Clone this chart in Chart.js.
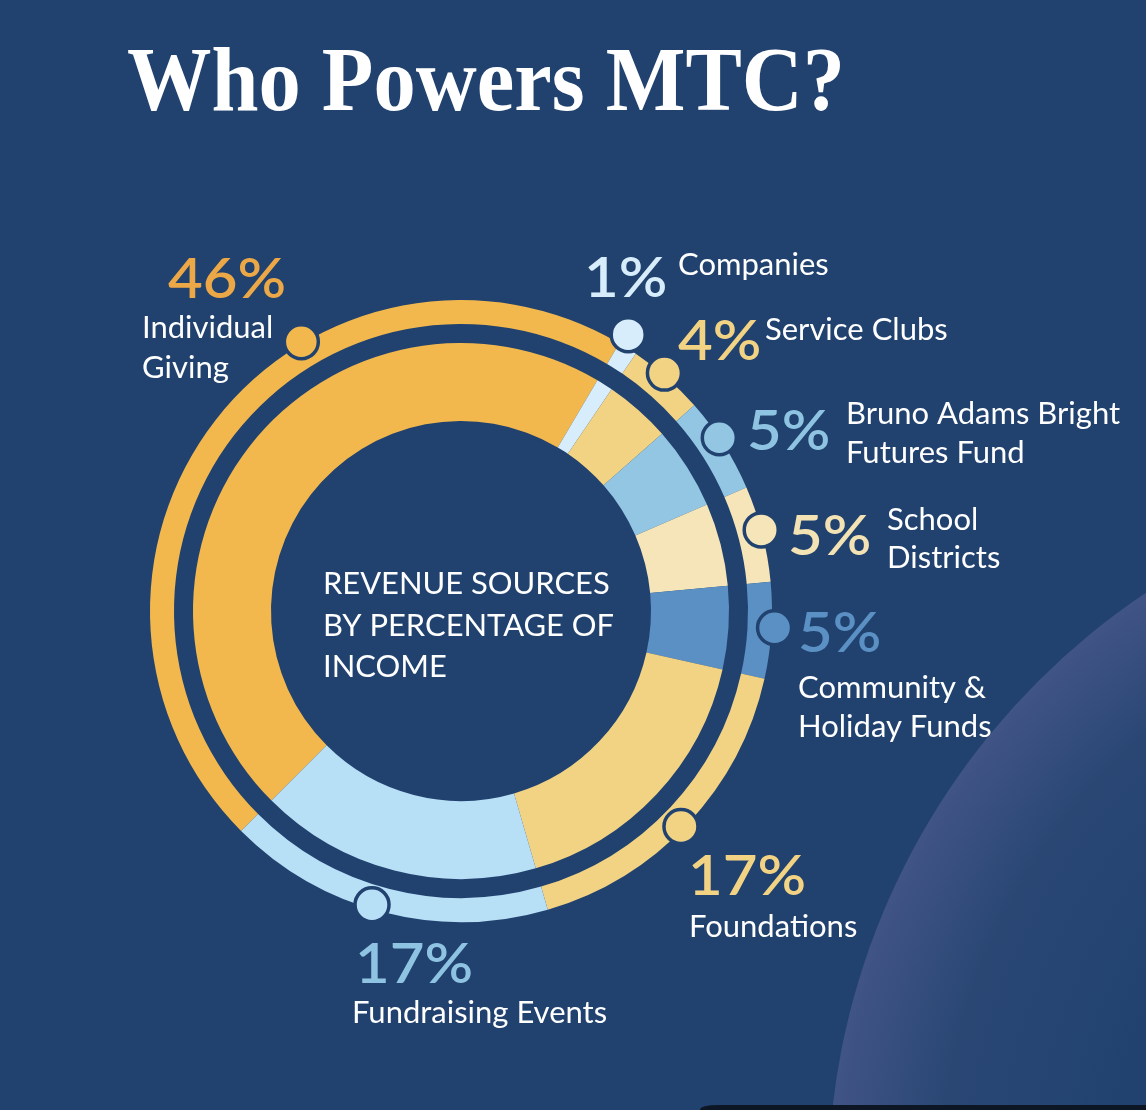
<!DOCTYPE html>
<html><head><meta charset="utf-8">
<script src="https://cdn.jsdelivr.net/npm/chart.js@4.4.0/dist/chart.umd.min.js"></script>
<style>
html,body{margin:0;padding:0;background:#21426f;overflow:hidden}
canvas{display:block}
</style></head><body>
<canvas id="c" width="1146" height="1110"></canvas>
<script>
// ---- data ----
const categories = ['Individual Giving','Companies','Service Clubs','Bruno Adams Bright Futures Fund','School Districts','Community & Holiday Funds','Foundations','Fundraising Events'];
const percentages = [46, 1, 4, 5, 5, 5, 17, 17];
const percentLabels = ['46%','1%','4%','5%','5%','5%','17%','17%'];
const labelLines = [['Individual','Giving'],['Companies'],['Service Clubs'],['Bruno Adams Bright','Futures Fund'],['School','Districts'],['Community &','Holiday Funds'],['Foundations'],['Fundraising Events']];
const centerLines = ['REVENUE SOURCES','BY PERCENTAGE OF','INCOME'];
const titleText = 'Who Powers MTC?';

// ---- styles ----
const NAVY = '#21426f';
const segmentColors = ['#f2b84d','#d8edfb','#f2d384','#93c6e3','#f5e5b8','#5b90c4','#f2d384','#b7dff6'];
const percentColors = ['#eca846','#d8edfb','#f2d384','#8fc3e2','#f3e2b3','#5b90c4','#f2d384','#8fc3e2'];
const markerFraction = [0.63, 0.16, 0.44, 0.42, 0.46, 0.47, 0.52, 0.54];
const markerPush = [2, 12, 2, 0, 0, 3, -3, -4];
// label anchor positions: [pctX, pctBaseline, textX, textBaseline, lineHeight]
const labelPos = [
  [168, 298, 142, 338, 40],
  [584, 297, 678, 275, 40],
  [678, 360, 765, 340, 40],
  [747, 450, 846, 424, 39],
  [788, 555, 887, 530, 38],
  [798, 652, 798, 698, 39],
  [688, 895, 689, 937, 40],
  [355, 983, 352, 1023, 40]
];

function drawScaled(ctx, text, x, y, sx) {
  ctx.save();
  ctx.translate(x, y);
  ctx.scale(sx, 1);
  ctx.fillText(text, 0, 0);
  ctx.restore();
}

const bgPlugin = {
  id: 'bg',
  beforeDraw(chart) {
    const ctx = chart.ctx;
    ctx.save();
    ctx.fillStyle = NAVY;
    ctx.fillRect(0, 0, chart.width, chart.height);
    const cx = 1544, cy = 1188, R = 716;
    const g = ctx.createRadialGradient(cx, cy, R - 280, cx, cy, R);
    g.addColorStop(0, 'rgba(33,66,111,1)');
    g.addColorStop(0.6, 'rgba(42,71,116,1)');
    g.addColorStop(1, 'rgba(64,84,133,1)');
    ctx.beginPath();
    ctx.arc(cx, cy, R, 0, Math.PI * 2);
    ctx.fillStyle = g;
    ctx.fill();
    ctx.fillStyle = '#0d1624';
    ctx.beginPath();
    ctx.moveTo(700, 1110);
    ctx.quadraticCurveTo(700, 1105, 720, 1105);
    ctx.lineTo(1146, 1105);
    ctx.lineTo(1146, 1110);
    ctx.closePath();
    ctx.fill();
    ctx.restore();
  }
};

const annotPlugin = {
  id: 'annot',
  afterDraw(chart) {
    const ctx = chart.ctx;
    ctx.save();
    ctx.textBaseline = 'alphabetic';
    // title
    ctx.fillStyle = '#ffffff';
    ctx.font = 'bold 92px "Liberation Serif", "DejaVu Serif", serif';
    const tw = ctx.measureText(titleText).width;
    drawScaled(ctx, titleText, 127, 110, 718 / tw);

    // markers on outer ring
    const meta = chart.getDatasetMeta(0);
    meta.data.forEach((arc, i) => {
      const a = arc.startAngle + markerFraction[i] * (arc.endAngle - arc.startAngle);
      const r = arc.outerRadius + markerPush[i];
      const px = arc.x + r * Math.cos(a), py = arc.y + r * Math.sin(a);
      ctx.beginPath();
      ctx.arc(px, py, 17, 0, Math.PI * 2);
      ctx.fillStyle = segmentColors[i];
      ctx.fill();
      ctx.lineWidth = 3.5;
      ctx.strokeStyle = NAVY;
      ctx.stroke();
    });

    // labels
    categories.forEach((c, i) => {
      const [px, py, tx, ty, lh] = labelPos[i];
      ctx.fillStyle = percentColors[i];
      ctx.font = '600 56px Lato, "Noto Sans", sans-serif';
      drawScaled(ctx, percentLabels[i], px, py, 1.07);
      ctx.fillStyle = '#ffffff';
      ctx.font = '31px Lato, "Noto Sans", sans-serif';
      labelLines[i].forEach((ln, k) => drawScaled(ctx, ln, tx, ty + k * lh, 1.0));
    });

    // center text
    ctx.fillStyle = '#ffffff';
    ctx.font = '30px Lato, "Noto Sans", sans-serif';
    centerLines.forEach((ln, k) => drawScaled(ctx, ln, 323, 594 + k * 41.5, 1.03));
    ctx.restore();
  }
};

new Chart(document.getElementById('c'), {
  type: 'doughnut',
  data: {
    labels: categories,
    datasets: [
      { data: percentages, backgroundColor: segmentColors, borderWidth: 0, weight: 24 },
      { data: percentages, backgroundColor: 'rgba(0,0,0,0)', borderWidth: 0, weight: 19 },
      { data: percentages, backgroundColor: segmentColors, borderWidth: 0, weight: 78 }
    ]
  },
  options: {
    responsive: false,
    devicePixelRatio: 1,
    animation: false,
    rotation: -135,
    cutout: '61.1%',
    layout: { padding: { left: 150, top: 300, right: 374, bottom: 188 } },
    plugins: { legend: { display: false }, tooltip: { enabled: false }, title: { display: false } },
    events: []
  },
  plugins: [bgPlugin, annotPlugin]
});
</script>
</body></html>
